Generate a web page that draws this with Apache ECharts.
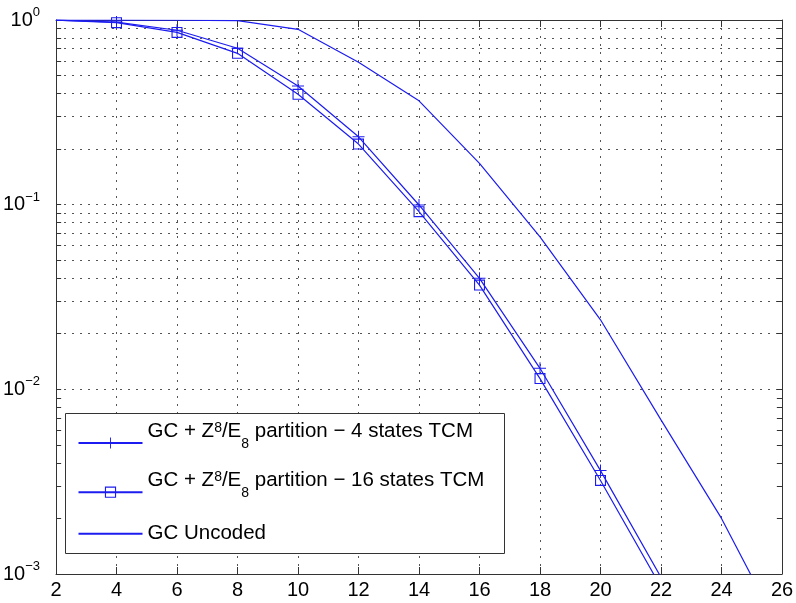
<!DOCTYPE html>
<html>
<head>
<meta charset="utf-8">
<script src="https://cdn.jsdelivr.net/npm/echarts@6/dist/echarts.min.js"></script>
<style>
  html, body { margin: 0; padding: 0; background: #fff; }
  #chart { width: 796px; height: 603px; }
</style>
</head>
<body>
<div id="chart"></div>
<script>
// SNR points (dB) for the coded schemes
const snrCoded = [2, 4, 6, 8, 10, 12, 14, 16, 18, 20, 22];
// 4-state TCM error rate
const tcm4 = [0.998, 0.975, 0.88, 0.703, 0.439, 0.233, 0.0996, 0.0399, 0.0130, 0.00363, 0.00096];
// 16-state TCM error rate
const tcm16 = [0.998, 0.967, 0.857, 0.660, 0.396, 0.213, 0.0916, 0.0367, 0.01143, 0.00321, 0.00085];
// SNR points (dB) and error rate for the uncoded reference
const snrUncoded = [2, 4, 6, 8, 10, 12, 14, 16, 18, 20, 22, 24, 26];
const uncoded = [1.0, 0.999, 0.997, 0.993, 0.89, 0.59, 0.365, 0.1675, 0.067, 0.0238, 0.00683, 0.0020, 0.00047];

// Legend entries (^ = superscript, _ = subscript)
const seriesNames = [
  'GC + Z^8/E_8 partition − 4 states TCM',
  'GC + Z^8/E_8 partition − 16 states TCM',
  'GC Uncoded'
];

// Minor positions of the log axis (2..9 of each decade)
const yMinorTicks = [
  0.002, 0.003, 0.004, 0.005, 0.006, 0.007, 0.008, 0.009,
  0.02, 0.03, 0.04, 0.05, 0.06, 0.07, 0.08, 0.09,
  0.2, 0.3, 0.4, 0.5, 0.6, 0.7, 0.8, 0.9
];
const yDecades = [0.001, 0.01, 0.1, 1];

const BLUE = '#1c1cf0';
const AXIS = '#333';
const FONT = '"Liberation Sans", Arial, Helvetica, sans-serif';
const PLUS = 'path://M0,5.5H12V6.5H0Z M5.5,0H6.5V12H5.5Z';
const SQUARE = 'path://M0,0H10V10H0Z M1,1V9H9V1Z';
const XMIN = 2, XMAX = 26, YMIN = 0.001, YMAX = 1;
const TICK_DX = 0.17;

const dotted = { color: '#555', width: 1, type: [2, 6] };

function toPoints(xs, ys) {
  // the first point sits on the frame corner: no marker there
  return xs.map((x, i) => i === 0 ? { value: [x, ys[i]], symbol: 'none' } : [x, ys[i]]);
}

function richName(name) {
  const parts = name.split(/(\^\d|_\d)/).filter(s => s.length);
  if (parts.length === 1) return '{plain|' + name + '}';
  return parts.map(p => {
    if (p[0] === '^') return '{sup|' + p.slice(1) + '}';
    if (p[0] === '_') return '{sub|' + p.slice(1) + '}';
    return '{base|' + p + '}';
  }).join('');
}

const legendRich = {
  plain: { fontSize: 20.5, lineHeight: 20, color: '#000', fontFamily: FONT },
  base: { fontSize: 20.5, lineHeight: 20, color: '#000', fontFamily: FONT, padding: [0, 0, 24, 0] },
  sup: { fontSize: 14, lineHeight: 14, color: '#000', fontFamily: FONT, padding: [0, 0, 30, 0] },
  sub: { fontSize: 14, lineHeight: 14, color: '#000', fontFamily: FONT, padding: [2, 0, 0, 0] }
};

function legendFor(name, top, hideSymbol) {
  const lg = {
    data: [name], left: 77.5, top: top, orient: 'vertical', padding: 0,
    itemWidth: 64, itemHeight: 14, selectedMode: false, z: 4,
    formatter: richName,
    textStyle: { fontSize: 20.5, color: '#000', fontFamily: FONT, rich: legendRich }
  };
  if (hideSymbol) lg.itemStyle = { opacity: 0 };
  return lg;
}

// Tick segments drawn inward from the left and right frame
const tickSegments = [];
yDecades.concat(yMinorTicks).forEach(v => {
  tickSegments.push([{ coord: [XMIN, v] }, { coord: [XMIN + TICK_DX, v] }]);
  tickSegments.push([{ coord: [XMAX - TICK_DX, v] }, { coord: [XMAX, v] }]);
});

const chart = echarts.init(document.getElementById('chart'), null, { renderer: 'canvas' });
chart.setOption({
  animation: false,
  backgroundColor: '#fff',
  textStyle: { fontFamily: FONT },
  grid: { left: 56, right: 14, top: 20, bottom: 29, containLabel: false, outerBoundsMode: 'none' },
  xAxis: [
    {
      type: 'value', min: XMIN, max: XMAX, interval: 2, position: 'bottom',
      axisLine: { show: true, onZero: false, lineStyle: { color: AXIS, width: 1 } },
      axisTick: { show: true, inside: true, length: 7, lineStyle: { color: AXIS } },
      axisLabel: { fontSize: 20, color: '#000', margin: 6, fontFamily: FONT },
      splitLine: { show: true, lineStyle: dotted }
    },
    {
      type: 'value', min: XMIN, max: XMAX, interval: 2, position: 'top',
      axisLine: { show: true, onZero: false, lineStyle: { color: AXIS, width: 1 } },
      axisTick: { show: true, inside: true, length: 7, lineStyle: { color: AXIS } },
      axisLabel: { show: false },
      splitLine: { show: false }
    }
  ],
  yAxis: [
    {
      type: 'log', logBase: 10, min: YMIN, max: YMAX, position: 'left',
      axisLine: { show: true, onZero: false, lineStyle: { color: AXIS, width: 1 } },
      axisTick: { show: false },
      axisLabel: {
        margin: 16, color: '#000',
        formatter: v => {
          const e = Math.round(Math.log10(v));
          return '{b|10}{s|' + (e < 0 ? '−' + (-e) : e) + '}';
        },
        rich: {
          b: { fontSize: 20, color: '#000', fontFamily: FONT },
          s: { fontSize: 13, color: '#000', fontFamily: FONT, padding: [0, 0, 15, 0] }
        }
      },
      splitLine: { show: true, lineStyle: dotted }
    },
    {
      type: 'log', logBase: 10, min: YMIN, max: YMAX, position: 'right',
      axisLine: { show: true, onZero: false, lineStyle: { color: AXIS, width: 1 } },
      axisTick: { show: false },
      axisLabel: { show: false },
      splitLine: { show: false }
    }
  ],
  legend: [
    legendFor(seriesNames[0], 420.5, false),
    legendFor(seriesNames[1], 469.7, false),
    legendFor(seriesNames[2], 523.3, true)
  ],
  graphic: [{
    type: 'rect', z: 3, silent: true,
    shape: { x: 65.5, y: 413.5, width: 439, height: 140 },
    style: { fill: '#fff', stroke: AXIS, lineWidth: 1 }
  }],
  series: [
    {
      name: seriesNames[0], type: 'line', xAxisIndex: 0, yAxisIndex: 0,
      data: toPoints(snrCoded, tcm4),
      symbol: PLUS, symbolSize: 12, showAllSymbol: true, clip: true, z: 2,
      lineStyle: { color: BLUE, width: 1.2 }, itemStyle: { color: BLUE }
    },
    {
      name: seriesNames[1], type: 'line', xAxisIndex: 0, yAxisIndex: 0,
      data: toPoints(snrCoded, tcm16),
      symbol: SQUARE, symbolSize: 11, showAllSymbol: true, clip: true, z: 2,
      lineStyle: { color: BLUE, width: 1.2 }, itemStyle: { color: BLUE }
    },
    {
      name: seriesNames[2], type: 'line', xAxisIndex: 0, yAxisIndex: 0,
      data: snrUncoded.map((x, i) => [x, uncoded[i]]),
      symbol: 'none', clip: true, z: 2,
      lineStyle: { color: BLUE, width: 1.2 }, itemStyle: { color: BLUE },
      markLine: {
        silent: true, symbol: 'none', z: 1, animation: false,
        label: { show: false },
        lineStyle: dotted,
        data: yMinorTicks.map(v => ({ yAxis: v, lineStyle: dotted }))
          .concat(tickSegments.map(seg => [
            Object.assign({}, seg[0], { lineStyle: { color: AXIS, type: 'solid', width: 1 } }),
            seg[1]
          ]))
      }
    }
  ]
});
</script>
</body>
</html>
